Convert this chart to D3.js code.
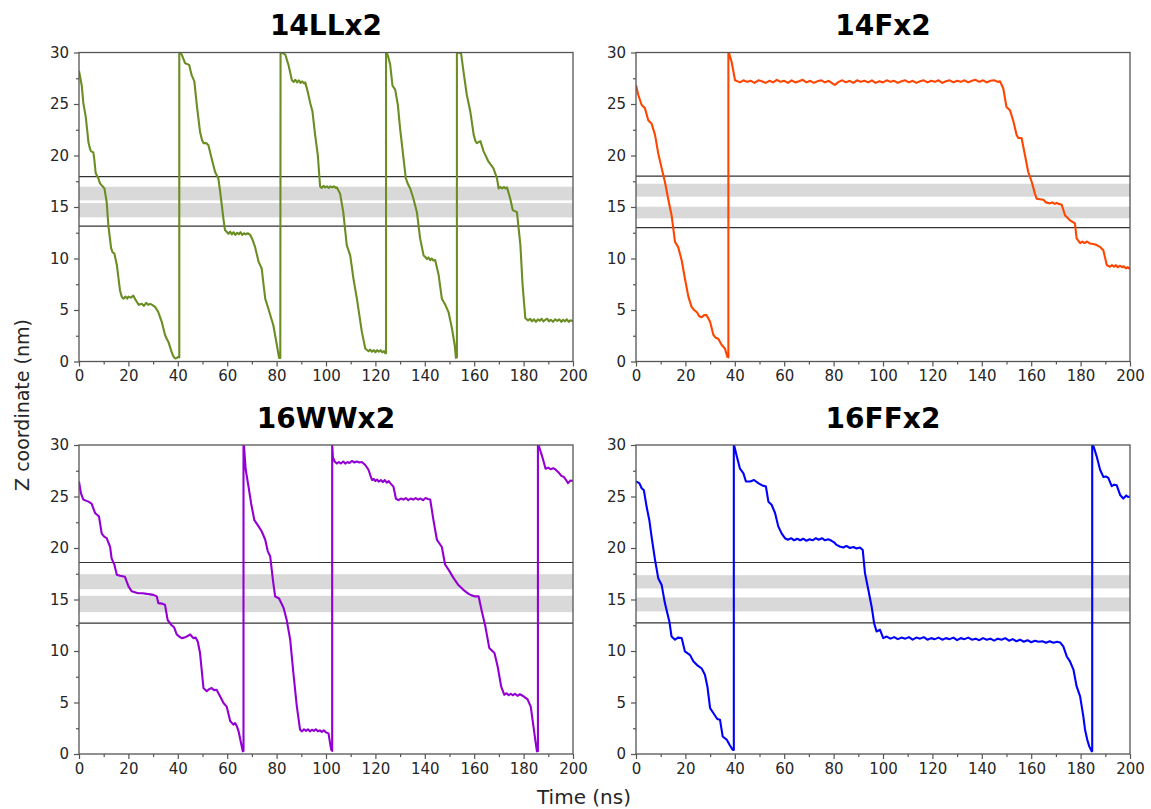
<!DOCTYPE html>
<html>
<head>
<meta charset="utf-8">
<script src="https://cdn.jsdelivr.net/npm/d3@7"></script>
<style>
  html, body { margin: 0; padding: 0; background: #fff; }
  svg { display: block; font-family: "DejaVu Sans", sans-serif; }
</style>
</head>
<body>
<svg id="chart" width="1151" height="809"></svg>
<script>
// Z coordinate (nm) of each trajectory versus simulation time (ns), as [t, z]
const trace14LL = [
  [0,28.2],[0.5,27.6],[1.1,26.8],[1.75,25.1],[2.7,23.8],[3.3,22.5],[3.8,21.3],[4.5,20.6],[4.9,20.4],[5.8,20.3],
  [6.2,19.6],[6.75,18.3],[7.8,17.8],[8.5,17.3],[9.2,17.1],[10.3,16.8],[11.2,15.5],[11.9,13.2],[13,11.0],[13.6,10.6],
  [14.3,10.5],[15.3,9.4],[16.6,6.9],[17.3,6.3],[17.96,6.1],[18.8,6.3],[19.5,6.1],[20,6.3],[21,6.2],[22,6.4],
  [22.6,6.1],[23.4,5.8],[24.2,5.5],[25.4,5.6],[26.3,5.4],[27.2,5.7],[28,5.5],[28.8,5.6],[29.6,5.5],[30.8,5.3],
  [32.1,4.8],[33.5,3.85],[34.8,2.6],[35.5,2.2],[36.2,1.9],[37.5,0.94],[38.2,0.5],[38.9,0.3],[39.6,0.35],[40.2,0.45],
  [40.6,0.4],[40.6,30],[41.6,29.8],[43,28.95],[44.6,28.8],[45.6,27.8],[46.7,27.2],[47.7,24.9],[49,22.3],[49.8,21.5],
  [50.4,21.2],[51.5,21.2],[52.4,21.0],[53.7,19.7],[55.1,18.4],[56.4,17.8],[57.1,16.6],[57.8,15.2],[58.5,13.8],[59.1,12.76],
  [60.5,12.4],[61.2,12.6],[61.9,12.35],[62.6,12.55],[63.3,12.3],[64,12.5],[64.7,12.35],[65.4,12.55],[66.1,12.3],[66.8,12.45],
  [67.5,12.35],[68.3,12.45],[69.3,12.3],
  [70.3,11.8],[71.3,11.1],[72.7,9.7],[74,9.0],[74.7,7.5],[75.4,6.1],[76.7,5.1],[78.7,3.5],[80.1,1.6],[81,0.35],
  [81.5,0.35],[81.6,30],[82.1,30],[83.5,29.8],[84.8,28.8],[86.2,27.3],[86.9,27.15],[87.6,27.35],[88.3,27.1],[89,27.3],
  [89.7,27.05],[90.4,27.2],[91.1,27.0],[91.6,27.1],
  [92.6,26.2],[93.6,25.1],[94.5,24.3],[95.6,22.0],[96.7,20.0],[97.6,17.0],[98.3,16.85],[99,17.05],[99.7,16.9],[100.4,17.0],
  [101.1,16.85],[101.8,17.0],[102.5,16.9],[103.2,17.0],[104,16.85],[104.4,16.9],
  [105.7,16.3],[107,14.5],[108.4,11.3],[109.8,10.3],[111.1,8.06],[112.5,6.1],[114.5,2.9],[115.9,1.26],
  [117.2,1.0],[117.9,1.15],[118.6,0.95],[119.3,1.1],[120,0.9],[120.7,1.1],[121.4,0.95],[122.1,1.1],[122.8,0.9],[123.5,1.0],
  [124,0.8],[124.3,0.8],[124.3,30],[124.6,30],[125.3,29.5],
  [126,28.8],[126.9,26.8],[128,26.4],[129.1,24.9],[130,22.6],[131.4,19.7],[132.3,17.8],[133.2,17.2],[134.1,16.8],[135.4,15.8],
  [136.8,14.5],[138.1,11.95],[139.5,10.3],[140.2,10.15],[140.9,9.95],[141.5,10.1],[142.2,9.85],[142.8,10.0],[143.5,9.8],[144.2,9.85],
  [145.6,8.4],[146.9,6.1],[148.3,5.5],
  [149.6,4.8],[151,3.2],[152.1,1.6],[152.6,0.36],[153,0.4],[153,30],[153.4,30],[154.7,29.9],[155.7,28.1],[157,25.9],
  [158.4,24.3],[159.8,22.0],[160.5,21.4],[161.1,21.2],[162.5,21.4],[163.8,20.4],[165.8,19.4],[167.8,18.75],[169.2,17.8],[169.9,16.8],
  [170.6,16.95],[171.3,16.8],[172,16.95],[172.7,16.8],[173.3,16.9],[174.6,15.8],[175.6,14.7],[177.3,14.5],[178.7,11.3],[179.6,7.4],
  [180.7,4.2],[181.8,4.0],[182.6,4.15],[183.4,3.9],[184.2,4.1],[185,3.85],[185.8,4.1],[186.5,3.95],[187.3,4.15],[188,3.9],
  [188.8,4.05],[189.5,4.15],[190.3,3.9],[191,4.05],[191.9,3.85],[192.8,4.1],[193.6,3.95],[194.5,4.1],[195.3,3.85],[196,4.05],
  [196.8,3.9],[197.5,4.1],[198.3,3.85],[199,4.0],[200,3.9]
];

const trace14F = [
  [0,26.85],[0.9,25.9],[2.3,24.9],[3.6,24.6],[5,23.4],[6.3,23.1],[7.7,22.0],[9,20.2],[10.4,18.75],[11.7,17.45],
  [13.1,15.7],[14.4,14.2],[15.8,11.6],[17.1,11.1],[18.5,9.8],[19.8,8.06],[21.2,6.3],[22.5,5.3],[23.5,5.0],[24.6,4.8],
  [25.6,4.4],[26.6,4.3],[27.6,4.5],[28.6,4.5],[30,3.85],[31.3,2.6],[32.3,2.3],[33.3,2.2],[34.7,1.6],[36,1.26],
  [37,0.45],[37.4,0.4],[37.4,30],[37.6,30],[38.7,29.1],[40.1,27.3],
  [42.1,27.1],[43.5,27.3],[45,27.15],[46.5,27.25],[48,27.05],[49.5,27.3],[51,27.2],[52.5,27.05],[54,27.25],[55.5,27.1],
  [57,27.35],[58.5,27.15],[60,27.25],[61.5,27.05],[63,27.3],[64.5,27.1],[66,27.2],[67.5,27.35],[69,27.1],[70.5,27.25],
  [72,27.05],[73.5,27.2],[75,27.3],[76.5,27.1],[78,27.25],[79.5,27.0],[80.5,26.85],[82,27.15],[83.5,27.3],[85,27.1],
  [86.5,27.25],[88,27.05],[89.5,27.3],[91,27.15],[92.5,27.25],[94,27.1],[95.5,27.3],[97,27.05],[98.5,27.2],[100,27.1],
  [101.5,27.3],[103,27.15],[104.5,27.25],[106,27.05],[107.5,27.2],[109,27.3],[110.5,27.1],[112,27.25],[113.5,27.05],[115,27.2],
  [116.5,27.3],[118,27.1],[119.5,27.25],[121,27.15],[122.5,27.3],[124,27.05],[125.5,27.2],[127,27.3],[128.5,27.1],[130,27.25],
  [131.5,27.15],[133,27.3],[134.5,27.1],[136,27.25],[137.5,27.35],[139,27.15],[140.5,27.3],[142,27.1],[143.5,27.25],[145,27.3],
  [146.5,27.15],[147.4,27.2],
  [148.7,26.5],[150,24.7],[151.4,24.4],[152.8,23.3],[154.1,22.0],[154.8,21.7],[156.1,21.7],
  [157.5,20.0],[158.8,18.4],[160.2,17.45],[161.5,16.3],[162.2,15.8],[163.5,15.75],[164.9,15.7],[166,15.45],[167.6,15.35],[168.5,15.45],
  [169.5,15.3],[170.3,15.4],[171,15.3],[172.3,15.25],[173.7,14.2],[175.7,13.7],[177.7,13.4],[178.4,11.95],[179.8,11.5],[180.7,11.65],
  [181.5,11.5],[182.6,11.65],[183.8,11.45],[185.2,11.4],
  [186.5,11.3],[188,11.1],[189.2,10.8],[190.6,9.36],[191.9,9.2],[192.7,9.35],[193.5,9.2],[194.3,9.35],[195,9.15],[196,9.3],
  [196.8,9.15],[197.5,9.25],[198.3,9.05],[199,9.15],[200,9.0]
];

const trace16WW = [
  [0,26.45],[0.8,25.3],[1.75,24.7],[2.8,24.6],[3.8,24.5],[5.1,24.3],[6.5,23.4],[8.1,23.05],[9.2,21.4],[10.2,21.1],
  [11.2,20.95],[12.6,20.1],[13.2,19.0],[14.3,18.4],[15.3,17.4],[16.6,17.3],[18.6,17.2],[20,16.3],[21.3,15.8],[22.6,15.7],
  [24,15.6],[25.7,15.6],[27.4,15.55],[28.8,15.5],[30.1,15.45],[31.5,15.3],[32.1,14.65],[33.5,14.6],[34.8,14.5],[35.9,13.0],
  [37.5,12.5],[38.5,12.3],[39.6,11.6],[40.6,11.4],[41.6,11.25],[42.6,11.3],[43.6,11.4],[45,11.6],[46.3,11.25],[47.2,11.3],
  [48.1,10.9],[49,9.8],[50.4,6.4],[51.7,6.1],[52.7,6.3],[53.7,6.4],[54.7,6.2],[55.7,6.24],[57.1,5.6],[58.5,4.95],
  [59.8,4.6],[61.2,3.2],[62.5,2.85],[63.2,3.0],[63.9,2.7],[64.6,2.2],[65.6,1.07],[66.3,0.26],[66.6,0.3],[66.6,30],
  [66.8,29.9],[67.5,27.6],[68.6,26.0],[69.7,24.3],[71,22.7],[72.7,22.1],[74,21.6],[75.4,20.8],[76.4,19.7],[77.4,19.2],
  [78.5,16.9],[79.4,15.3],[81,15.1],[82.8,14.2],[84.1,13.0],[85.5,11.1],[86.8,7.86],[88.2,4.6],
  [89.5,2.36],[90.3,2.2],[91.1,2.4],[91.9,2.25],[92.7,2.4],[93.5,2.2],[94.3,2.35],[95.1,2.25],[95.9,2.4],[96.7,2.2],
  [97.5,2.3],[98.3,2.15],[99.1,2.3],[100,2.1],[101,2.0],[102.1,0.42],[102.5,0.3],
  [102.5,30],[102.8,28.8],[103.5,28.4],[104.4,28.2],[105.2,28.35],[106,28.2],[107,28.4],[107.8,28.2],[108.7,28.35],[109.5,28.25],
  [110.5,28.45],[111.5,28.3],[112.5,28.4],[113.5,28.3],[114.5,28.35],[115.9,28.06],
  [117.2,27.6],[118.6,26.6],[119.3,26.7],[120,26.5],[120.7,26.65],[121.3,26.45],[122.2,26.6],[123,26.4],[123.8,26.6],[124.6,26.35],
  [125.4,26.5],[126,26.3],[127.3,25.96],
  [128.3,24.8],[129.3,24.65],[130.3,24.8],[131.3,24.7],[132.3,24.85],[133.3,24.65],[134.3,24.8],[135.3,24.7],[136.3,24.85],[137.3,24.7],
  [138.3,24.8],[139.3,24.65],[140.3,24.85],[141.3,24.75],[142.2,24.7],
  [143.5,22.7],[144.9,20.8],[146.9,20.1],[148.2,18.4],
  [149.6,17.9],[151.6,17.1],[153.6,16.4],[155.6,15.94],[157.7,15.55],[159,15.4],[160.4,15.3],[161.8,15.3],[163.1,13.84],[164.5,12.4],
  [166.1,10.3],[168.2,9.8],[169.5,8.5],[170.9,6.56],[172.2,5.75],[173.1,5.9],[174,5.7],[174.8,5.85],[175.6,5.7],[176.5,5.85],
  [177.5,5.65],[178.5,5.8],[179.6,5.66],[181.6,5.3],
  [182.9,4.6],[183.8,3.0],[184.9,1.07],[185.4,0.26],[185.8,0.3],[185.8,30],[186.2,29.9],[187.5,28.9],[188.9,27.7],[189.9,27.8],
  [190.9,27.65],[192,27.75],[193,27.6],[194.3,27.3],[195.3,27.0],[196.3,26.9],[197.2,26.6],[198,26.3],[199,26.55],[200,26.5]
];

const trace16FF = [
  [0,26.45],[1.35,26.3],[2.3,25.8],[3.2,25.6],[4.3,24.0],[5.4,22.7],[6.3,21.1],[7.7,18.85],[9,17.07],[10.4,16.4],
  [11.7,14.65],[13.5,12.87],[14.4,11.4],[15.8,11.1],[17,11.3],[18.5,11.25],[19.8,9.96],[21.9,9.6],[23.2,9.0],[24.6,8.66],
  [26.6,8.3],[27.9,7.7],[28.9,6.56],[30,4.46],[31.3,3.98],[32.9,3.4],[34,3.33],[35.1,1.7],[36.7,1.4],[38.1,0.8],
  [39.1,0.42],[39.6,0.4],[39.6,30],[39.8,29.9],[40.8,28.9],[42.1,27.7],[43.5,27.25],[44.5,26.45],[46.2,26.45],[47.8,26.6],
  [49.5,26.3],[50.9,26.1],[52.6,25.96],[53.6,24.5],[54.9,24.2],[56.3,23.4],[57.6,22.1],[59,21.4],
  [60.3,20.95],[61.5,20.8],[62.8,20.95],[64,20.75],[65.3,20.9],[66.5,20.75],[67.7,20.9],[69,20.7],[70.3,20.85],[71.5,20.75],
  [72.8,20.95],[74,20.8],[75.3,20.95],[76.5,20.75],[77.8,20.85],[79.2,20.7],[80.2,20.55],[81.2,20.3],[82.5,20.15],[83.9,20.05],
  [85.2,20.2],[86.6,20.0],[88,20.1],[89.3,19.95],[90.7,20.05],[91.8,19.8],
  [92.7,17.56],[94.1,15.9],[95.4,14.3],[96.4,12.7],[97.4,11.9],[98.8,12.06],
  [100.1,11.25],[101.5,11.4],[103,11.2],[104.5,11.35],[106,11.15],[107.5,11.3],[109,11.2],[110.5,11.35],[112,11.1],[113.5,11.3],
  [115,11.2],[116.5,11.35],[118,11.1],[119.5,11.25],[121,11.15],[122.5,11.3],[124,11.1],[125.5,11.25],[127,11.15],[128.5,11.3],
  [130,11.05],[131.5,11.25],[133,11.15],[134.5,11.3],[136,11.1],[137.5,11.2],[139,11.05],[140.5,11.25],[142,11.1],[143.5,11.2],
  [145,11.0],[146.5,11.2],[148,11.1],[149.5,11.25],[151,11.0],[152.5,11.15],[154,10.95],[155.5,11.1],[157,10.9],[158.5,11.05],
  [160,10.85],[161.5,11.0],[163,10.9],[164.5,10.95],[166,10.8],[167.5,10.95],[169,10.8],[170.5,10.9],[171.7,10.83],
  [173,10.44],[174.4,9.47],[175.7,9.0],[177.1,8.2],[178.4,6.56],[179.8,5.6],[181.1,3.65],[181.8,2.36],
  [182.7,1.39],[183.5,0.74],[184.5,0.26],[184.7,0.3],[184.7,30],[185.2,29.9],[186.5,28.9],[187.9,27.6],[189.2,26.9],[190.2,26.95],
  [191.2,26.8],[192.6,26.0],[193.6,26.15],[194.6,26.1],[196,25.15],[197.3,24.8],[198.5,25.1],[199.2,24.95],[200,25.0]
];

// Membrane reference levels (nm): boundary lines and shaded bands
const lines14LL = [13.15, 17.94];
const bands14LL = [[15.64, 16.97], [13.99, 15.38]];
const lines14F = [12.99, 18.0];
const bands14F = [[16.0, 17.26], [13.9, 15.03]];
const lines16WW = [12.7, 18.59];
const bands16WW = [[16.0, 17.46], [13.77, 15.36]];
const lines16FF = [12.74, 18.59];
const bands16FF = [[16.07, 17.36], [13.84, 15.2]];

// Axis ticks
const xTicks = [0, 20, 40, 60, 80, 100, 120, 140, 160, 180, 200];
const xMinorTicks = [10, 30, 50, 70, 90, 110, 130, 150, 170, 190];
const yTicks = [0, 5, 10, 15, 20, 25, 30];
const yMinorTicks = [2.5, 7.5, 12.5, 17.5, 22.5, 27.5];

const panels = [
  { title: "14LLx2", data: trace14LL, lines: lines14LL, bands: bands14LL, color: "#6b8e23", left: 79,  top: 52.5 },
  { title: "14Fx2",  data: trace14F,  lines: lines14F,  bands: bands14F,  color: "#ff4500", left: 636, top: 52.5 },
  { title: "16WWx2", data: trace16WW, lines: lines16WW, bands: bands16WW, color: "#9400d3", left: 79,  top: 445 },
  { title: "16FFx2", data: trace16FF, lines: lines16FF, bands: bands16FF, color: "#0000ff", left: 636, top: 445 }
];

const W = 494, H = 309;
const svg = d3.select("#chart");
const spineColor = "#555";

panels.forEach((p, i) => {
  const g = svg.append("g").attr("transform", `translate(${p.left},${p.top})`);
  const x = d3.scaleLinear().domain([0, 200]).range([0, W]);
  const y = d3.scaleLinear().domain([0, 30]).range([H, 0]);

  const clipId = "clip" + i;
  g.append("clipPath").attr("id", clipId)
    .append("rect").attr("x", 0).attr("y", 0).attr("width", W).attr("height", H);

  const plot = g.append("g").attr("clip-path", `url(#${clipId})`);

  // shaded bands
  plot.selectAll("rect.band").data(p.bands).enter().append("rect")
    .attr("class", "band")
    .attr("x", 0).attr("width", W)
    .attr("y", d => y(d[1]))
    .attr("height", d => y(d[0]) - y(d[1]))
    .attr("fill", "#d9d9d9");

  // boundary lines
  plot.selectAll("line.ref").data(p.lines).enter().append("line")
    .attr("class", "ref")
    .attr("x1", 0).attr("x2", W)
    .attr("y1", d => y(d)).attr("y2", d => y(d))
    .attr("stroke", "#333").attr("stroke-width", 1.2);

  // trajectory
  const line = d3.line().x(d => x(d[0])).y(d => y(d[1]));
  plot.append("path").datum(p.data)
    .attr("d", line)
    .attr("fill", "none")
    .attr("stroke", p.color)
    .attr("stroke-width", 2.1)
    .attr("stroke-linejoin", "round");

  // axes
  const xAxis = d3.axisBottom(x).tickValues(xTicks).tickSize(5).tickPadding(4).tickFormat(d3.format("d"));
  const xMinor = d3.axisBottom(x).tickValues(xMinorTicks).tickSize(3).tickFormat("");
  const yAxis = d3.axisLeft(y).tickValues(yTicks).tickSize(5).tickPadding(5).tickFormat(d3.format("d"));
  const yMinor = d3.axisLeft(y).tickValues(yMinorTicks).tickSize(3).tickFormat("");

  const styleAxis = sel => {
    sel.select(".domain").remove();
    sel.selectAll("line").attr("stroke", spineColor).attr("stroke-width", 1.2);
    sel.selectAll("text").attr("fill", "#262626")
      .style("font-family", "'DejaVu Sans', sans-serif").style("font-size", "15px");
  };

  g.append("g").attr("transform", `translate(0,${H})`).call(xAxis).call(styleAxis);
  g.append("g").attr("transform", `translate(0,${H})`).call(xMinor).call(styleAxis);
  g.append("g").call(yAxis).call(styleAxis);
  g.append("g").call(yMinor).call(styleAxis);

  // frame
  g.append("rect").attr("x", 0).attr("y", 0).attr("width", W).attr("height", H)
    .attr("fill", "none").attr("stroke", spineColor).attr("stroke-width", 1.3);

  // title
  g.append("text")
    .attr("x", W / 2).attr("y", -17.5)
    .attr("text-anchor", "middle")
    .style("font-family", "'DejaVu Sans', sans-serif")
    .style("font-weight", "bold").style("font-size", "28px")
    .attr("fill", "#000")
    .text(p.title);
});

// shared axis labels
svg.append("text")
  .attr("x", 584).attr("y", 804)
  .attr("text-anchor", "middle")
  .style("font-size", "20px").attr("fill", "#262626")
  .text("Time (ns)");

svg.append("text")
  .attr("transform", "translate(29,405) rotate(-90)")
  .attr("text-anchor", "middle")
  .style("font-size", "19px").attr("fill", "#262626")
  .text("Z coordinate (nm)");
</script>
</body>
</html>
